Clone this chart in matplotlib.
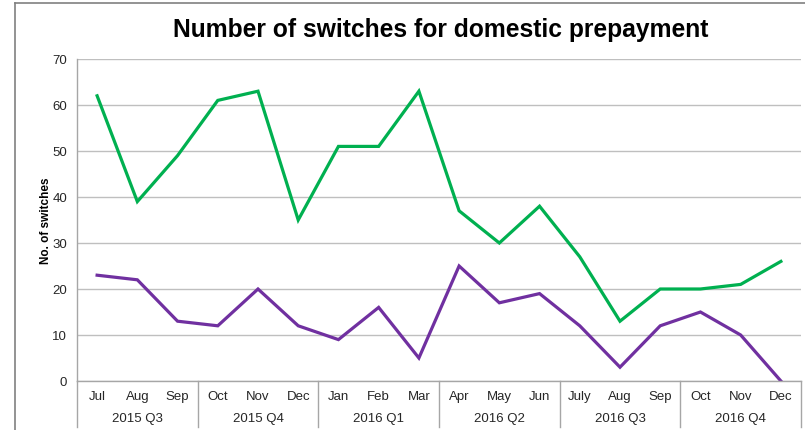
import matplotlib
matplotlib.use("Agg")
import matplotlib.pyplot as plt
from matplotlib.lines import Line2D
import matplotlib.transforms as mtransforms
import numpy as np

months = ["Jul", "Aug", "Sep", "Oct", "Nov", "Dec", "Jan", "Feb", "Mar",
          "Apr", "May", "Jun", "July", "Aug", "Sep", "Oct", "Nov", "Dec"]
quarters = ["2015 Q3", "2015 Q4", "2016 Q1", "2016 Q2", "2016 Q3", "2016 Q4"]
green_values = [62, 39, 49, 61, 63, 35, 51, 51, 63, 37, 30, 38, 27, 13, 20, 20, 21, 26]
purple_values = [23, 22, 13, 12, 20, 12, 9, 16, 5, 25, 17, 19, 12, 3, 12, 15, 10, 0]

plt.rcParams['font.family'] = ['Liberation Sans', 'DejaVu Sans']

fig = plt.figure(figsize=(8.05, 4.31), dpi=100)
fig.patch.set_facecolor('white')
W, H = 805, 431
left, right, bottom, top = 77 / W, 801 / W, 1 - 382 / H, 1 - 60 / H
ax = fig.add_axes([left, bottom, right - left, top - bottom])

x = np.arange(len(months))
ax.plot(x, green_values, color='#00B050', lw=2.3, solid_joinstyle='miter')
ax.plot(x, purple_values, color='#7030A0', lw=2.3, solid_joinstyle='miter')

ax.set_xlim(-0.5, len(months) - 0.5)
ax.set_ylim(0, 70)
ax.set_yticks(range(0, 71, 10))
ax.yaxis.grid(True, color='#BFBFBF', lw=1)
ax.set_axisbelow(True)
ax.tick_params(axis='y', length=0, labelsize=9.5, pad=7, colors='#262626')
ax.tick_params(axis='x', length=0, labelbottom=False)
for s in ['top', 'right']:
    ax.spines[s].set_visible(False)
for s in ['left', 'bottom']:
    ax.spines[s].set_color('#A6A6A6')
    ax.spines[s].set_linewidth(1)

ax.set_ylabel("No. of switches", fontsize=8.5, fontweight='bold', labelpad=0)

trans = mtransforms.blended_transform_factory(ax.transData, ax.transAxes)
axh = 382 - 60
for i, m in enumerate(months):
    ax.text(i, -(397 - 382) / axh, m, transform=trans, ha='center', va='center',
            fontsize=9.5, color='#262626')
for q, name in enumerate(quarters):
    ax.text(q * 3 + 1, -(419 - 382) / axh, name, transform=trans, ha='center',
            va='center', fontsize=9.5, color='#262626')
for b in range(len(quarters) + 1):
    ax.add_line(Line2D([b * 3 - 0.5, b * 3 - 0.5], [0, -(428 - 382) / axh],
                       transform=trans, color='#A6A6A6', lw=1, clip_on=False))

fig.text((175 + 707) / 2 / W, 1 - 30 / H, "Number of switches for domestic prepayment",
         ha='center', va='center', fontsize=17.7, fontweight='bold')

# outer frame (top and left edges visible)
fig.add_artist(Line2D([15 / W, 15 / W], [0, 1 - 4 / H], transform=fig.transFigure,
                      color='#808080', lw=1.2))
fig.add_artist(Line2D([15 / W, 1], [1 - 4 / H, 1 - 4 / H], transform=fig.transFigure,
                      color='#808080', lw=1.2))

fig.savefig("out.png", dpi=100)
